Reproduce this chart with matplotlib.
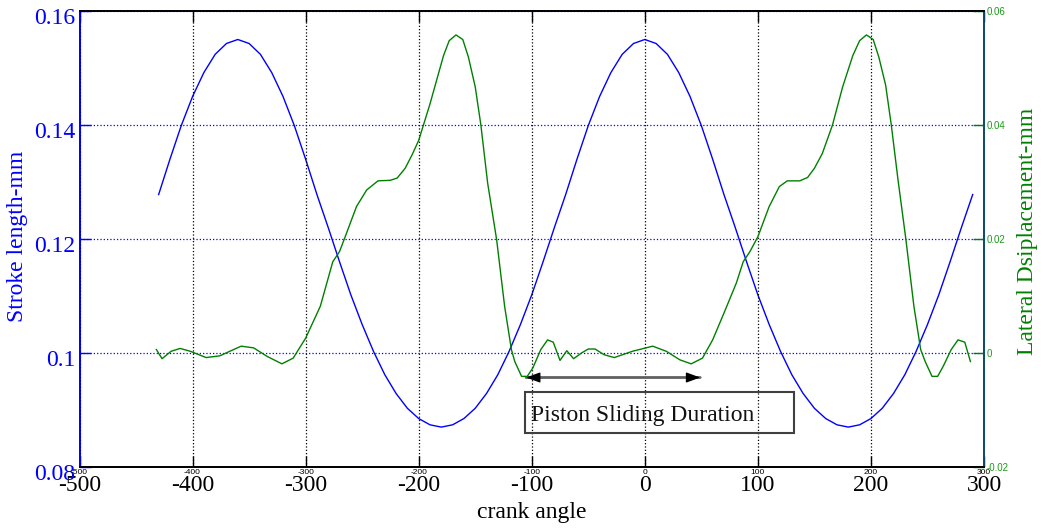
import matplotlib
matplotlib.use('Agg')
import matplotlib.pyplot as plt
from matplotlib.patches import Rectangle
from matplotlib.transforms import ScaledTranslation

# ---------------- data ----------------
crank_angle = list(range(-430, 291, 10))
stroke_length = [
    0.1278, 0.1340, 0.1399, 0.1450, 0.1492, 0.1524, 0.1543, 0.1550,
    0.1543, 0.1524, 0.1492, 0.1450, 0.1399, 0.1340, 0.1278, 0.1220, 0.1160,
    0.1102, 0.1050, 0.1003, 0.0962, 0.0929, 0.0903, 0.0885, 0.0874, 0.0870,
    0.0874, 0.0885, 0.0903, 0.0929, 0.0962, 0.1003, 0.1050, 0.1102, 0.1160,
    0.1220, 0.1278, 0.1340, 0.1399, 0.1450, 0.1492, 0.1524, 0.1543, 0.1550,
    0.1543, 0.1524, 0.1492, 0.1450, 0.1399, 0.1340, 0.1278, 0.1220, 0.1160,
    0.1102, 0.1050, 0.1003, 0.0962, 0.0929, 0.0903, 0.0885, 0.0874, 0.0870,
    0.0874, 0.0885, 0.0903, 0.0929, 0.0962, 0.1003, 0.1050, 0.1102, 0.1160,
    0.1220, 0.1278,
]

lateral_angle = [
    -432, -427, -419, -411, -402, -388, -376, -357, -346, -334, -321, -311,
    -300, -287, -276, -270, -265, -255, -246, -236, -225, -219, -212, -206,
    -200, -190, -178, -173, -167, -161, -156, -150, -145, -139, -131, -124,
    -118, -115, -109, -104, -99, -92, -86, -81, -75, -69, -63, -56, -50, -44,
    -36, -27, -11, 7, 19, 31, 41, 51, 60, 70, 81, 87, 93, 100, 110, 119, 126,
    137, 144, 150, 157, 166, 175, 184, 190, 196, 202, 207, 213, 218, 224, 231,
    238, 244, 248, 254, 259, 264, 271, 277, 283, 288,
]
lateral_disp = [
    0.0006, -0.0010, 0.0003, 0.0008, 0.0003, -0.0008, -0.0005, 0.0012, 0.0009,
    -0.0006, -0.0019, -0.0009, 0.0026, 0.0082, 0.0160, 0.0178, 0.0204, 0.0257,
    0.0286, 0.0302, 0.0303, 0.0307, 0.0324, 0.0347, 0.0373, 0.0437, 0.0522,
    0.0548, 0.0558, 0.0550, 0.0519, 0.0467, 0.0400, 0.0298, 0.0198, 0.0082,
    0.0006, -0.0015, -0.0041, -0.0041, -0.0026, 0.0006, 0.0023, 0.0019,
    -0.0013, 0.0004, -0.0010, 0.0000, 0.0007, 0.0007, -0.0003, -0.0008,
    0.0003, 0.0012, 0.0003, -0.0012, -0.0019, -0.0009, 0.0023, 0.0070, 0.0123,
    0.0160, 0.0178, 0.0204, 0.0257, 0.0292, 0.0302, 0.0302, 0.0308, 0.0324,
    0.0350, 0.0400, 0.0467, 0.0522, 0.0548, 0.0558, 0.0550, 0.0519, 0.0470,
    0.0400, 0.0303, 0.0198, 0.0082, 0.0006, -0.0015, -0.0041, -0.0041,
    -0.0023, 0.0006, 0.0023, 0.0019, -0.0015,
]

x_ticks = [-500, -400, -300, -200, -100, 0, 100, 200, 300]
x_tick_labels = ['-500', '-400', '-300', '-200', '-100', '0', '100', '200', '300']
left_ticks = [0.08, 0.10, 0.12, 0.14, 0.16]
left_tick_labels = ['0.08', '0.1', '0.12', '0.14', '0.16']
right_ticks = [-0.02, 0.0, 0.02, 0.04, 0.06]
right_tick_labels = ['-0.02', '0', '0.02', '0.04', '0.06']

annotation_text = 'Piston Sliding Duration'
arrow_left, arrow_right, arrow_y = -105, 49, 0.0957
box_x0, box_x1, box_y0, box_y1 = -106.4, 131.7, 0.0860, 0.0932
text_x, text_y = -100.4, 0.0880

# ---------------- style ----------------
SERIF = 'Liberation Serif'
SANS = 'Liberation Sans'
BLUE = '#0000ff'
GREEN = '#008000'
plt.rcParams['font.family'] = [SERIF, 'DejaVu Serif']

W, H = 1043, 528
fig = plt.figure(figsize=(W / 100, H / 100), dpi=100)
L, R, T, B = 79.5, 984, 11, 467
ax = fig.add_axes([L / W, 1 - B / H, (R - L) / W, (B - T) / H])
ax2 = ax.twinx()

ax.plot(crank_angle, stroke_length, color=BLUE, lw=1.0)
ax2.plot(lateral_angle, lateral_disp, color=GREEN, lw=1.0)

ax.set_xlim(-500, 300)
ax.set_ylim(0.08, 0.16)
ax2.set_ylim(-0.02, 0.06)

ax.set_xticks(x_ticks)
ax.set_xticklabels(x_tick_labels, fontsize=17, fontfamily=SERIF)
ax.set_yticks(left_ticks)
ax.set_yticklabels(left_tick_labels, fontsize=17, fontfamily=SERIF, color=BLUE)
ax.tick_params(axis='x', direction='in', length=8, width=1, pad=6, top=True, colors='black')
ax.tick_params(axis='y', direction='in', length=8, width=1, pad=3, colors=BLUE)
ax.tick_params(axis='y', labelcolor=BLUE)

# MATLAB-style: left tick labels sit slightly below their ticks
down = ScaledTranslation(0, -5 / 100, fig.dpi_scale_trans)
for lbl in ax.get_yticklabels():
    lbl.set_transform(lbl.get_transform() + down)

ax.grid(axis='x', color='black', linestyle=':', linewidth=0.9)
ax.grid(axis='y', color=BLUE, linestyle=':', linewidth=0.9)
ax.set_axisbelow(False)

# secondary (tiny) x labels and green right axis
ax2.xaxis.set_visible(True)
ax2.set_yticks(right_ticks)
ax2.set_yticklabels(right_tick_labels, fontsize=7, fontfamily=SANS, color='#1a9a1a')
ax2.tick_params(axis='y', direction='in', length=8, width=1, pad=2, colors=GREEN)
ax2.tick_params(axis='x', direction='in', length=0, pad=1.5, labelsize=6,
                labelbottom=True)
for lbl in ax2.get_xticklabels():
    lbl.set_fontfamily(SANS)
for lbl in ax2.get_yticklabels():
    lbl.set_color('#1a9a1a')

for a in (ax, ax2):
    a.spines['top'].set_color('black')
    a.spines['bottom'].set_color('black')
    a.spines['left'].set_color(BLUE)
    a.spines['right'].set_color('#0b4f6c')
    for s in a.spines.values():
        s.set_linewidth(1.3)

ax.set_xlabel('crank angle', fontsize=17, labelpad=4)
ax.set_ylabel('Stroke length-mm', fontsize=17, color=BLUE)
ax.yaxis.set_label_coords(-0.057, 0.505)
ax2.set_ylabel('Lateral Dsiplacement-mm', fontsize=17, color=GREEN)
ax2.yaxis.set_label_coords(1.037, 0.517)

# annotation: double arrow and text box
ax.annotate('', xy=(arrow_left, arrow_y), xytext=(arrow_right, arrow_y),
            arrowprops=dict(arrowstyle='-', color='#606060', lw=2, shrinkA=0, shrinkB=0))
ax.annotate('', xy=(arrow_left, arrow_y), xytext=(arrow_left + 10, arrow_y),
            arrowprops=dict(arrowstyle='-|>,head_length=0.6,head_width=0.22',
                            color='black', lw=1, shrinkA=0, shrinkB=0, mutation_scale=14))
ax.annotate('', xy=(arrow_right, arrow_y), xytext=(arrow_right - 10, arrow_y),
            arrowprops=dict(arrowstyle='-|>,head_length=0.6,head_width=0.22',
                            color='black', lw=1, shrinkA=0, shrinkB=0, mutation_scale=14))
ax.add_patch(Rectangle((box_x0, box_y0), box_x1 - box_x0, box_y1 - box_y0,
                       fill=False, edgecolor='#404040', linewidth=1.5, zorder=5))
ax.text(text_x, text_y, annotation_text, fontsize=17, ha='left', va='baseline',
        color='#111111', zorder=6)

fig.savefig('out.png', dpi=100)
